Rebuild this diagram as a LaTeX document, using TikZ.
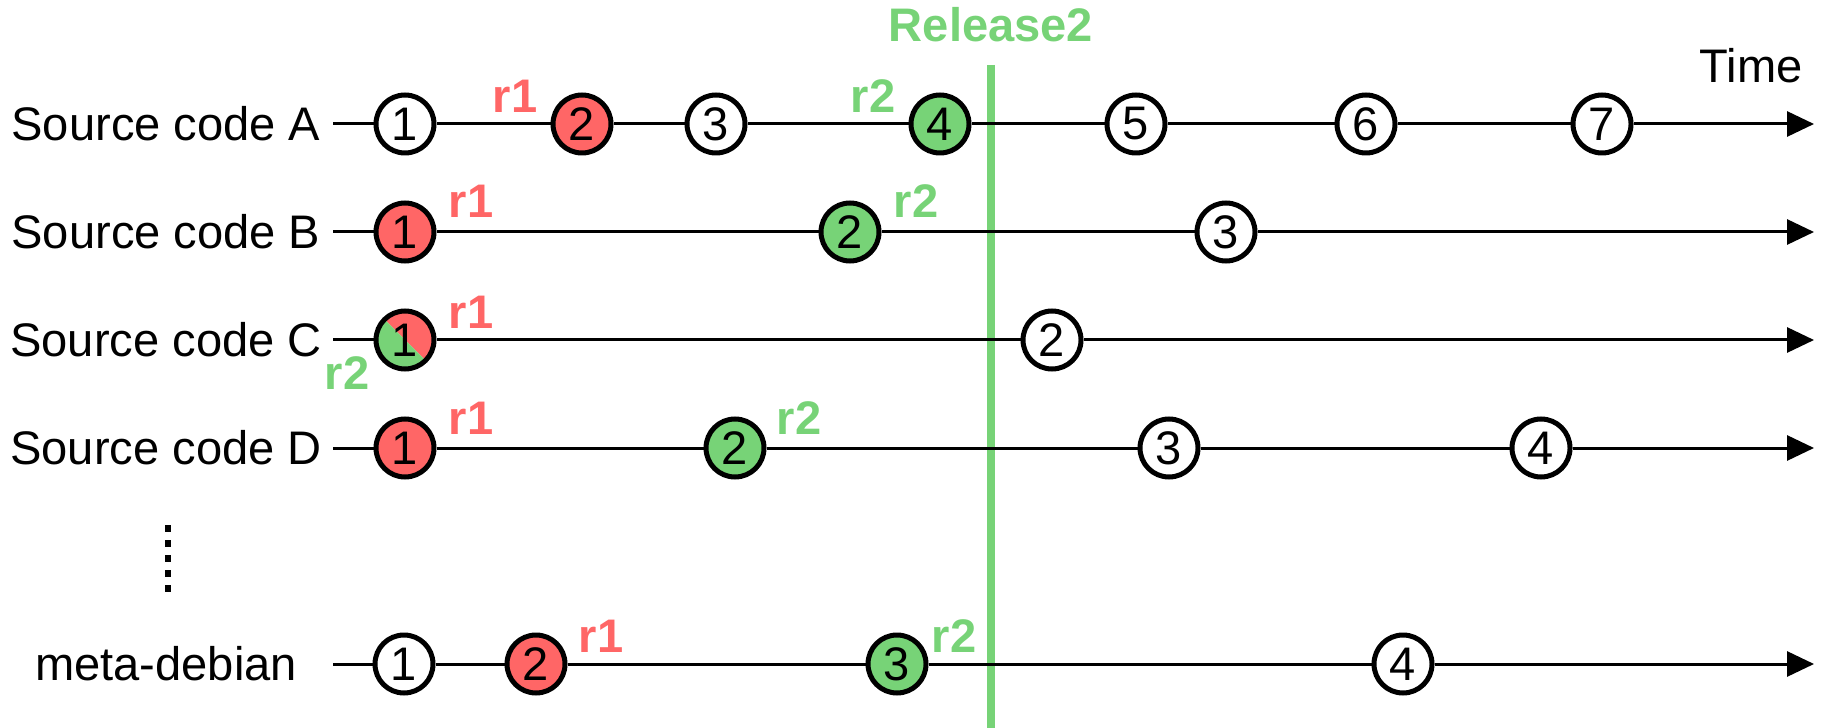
\documentclass[tikz,border=0pt]{standalone}
\usepackage{fontspec}
\setmainfont{Liberation Sans}
\usetikzlibrary{
  arrows.meta,
  calc,
  positioning,
}
\definecolor{relred}{HTML}{FF6666}
\definecolor{relgreen}{HTML}{77D377}

\begin{document}
\begin{tikzpicture}[
  txt/.style={font=\fontsize{13.4pt}{16pt}\selectfont, inner sep=0pt},
  commit/.style={txt, draw, circle, line width=0.05cm, minimum size=0.58cm, fill=white},
  tag/.style={inner sep=0pt, font=\fontsize{13.4pt}{16pt}\selectfont\bfseries, anchor=base west},
  timeline/.style={line width=0.03cm, -{Triangle[length=0.27cm, width=0.25cm]}},
  split/.style={path picture={
    \fill[relred] (path picture bounding box.north west) -- (path picture bounding box.north east)
      -- (path picture bounding box.south east) -- cycle;
    \fill[relgreen] (path picture bounding box.north west) -- (path picture bounding box.south west)
      -- (path picture bounding box.south east) -- cycle;}},
]
\useasboundingbox (0,0) rectangle (18.25,-7.28);

\coordinate (relTop) at (9.91,-0.65);
\coordinate (relBot) at (9.91,-7.28);
\draw[relgreen, line width=0.08cm] (relTop) -- (relBot);
\node[tag, anchor=south, text=relgreen, above=0.22cm of relTop] (rel) {Release2};
\node[txt, anchor=base] (time) at (17.51,-0.83) {Time};

\node[txt] (la) at (1.66,-1.24) {Source code A};
\node[txt] (lb) at (1.66,-2.32) {Source code B};
\node[txt] (lc) at (1.66,-3.40) {Source code C};
\node[txt] (ld) at (1.66,-4.48) {Source code D};
\node[txt] (lm) at (1.66,-6.64) {meta-debian};

\coordinate (dotTop) at (1.68,-5.25);
\coordinate (dotBot) at (1.68,-5.93);
\draw[line width=0.06cm, dash pattern=on 0.07cm off 0.08cm] (dotTop) -- (dotBot);

\node[commit] (a1) at (4.05,-1.24) {1};
\node[commit, fill=relred] (a2) at (5.82,-1.24) {2};
\node[commit] (a3) at (7.16,-1.24) {3};
\node[commit, fill=relgreen] (a4) at (9.40,-1.24) {4};
\node[commit] (a5) at (11.36,-1.24) {5};
\node[commit] (a6) at (13.66,-1.24) {6};
\node[commit] (a7) at (16.02,-1.24) {7};
\coordinate (sa) at (3.33,-1.24);
\coordinate (ea) at (18.14,-1.24);
\draw[timeline] (sa) -- (a1) -- (a2) -- (a3) -- (a4) -- (a5) -- (a6) -- (a7) -- (ea);
\node[tag, anchor=base east, text=relred] (a2tag) at ($(a2)+(-0.44,0.11)$) {r1};
\node[tag, anchor=base east, text=relgreen] (a4tag) at ($(a4)+(-0.44,0.11)$) {r2};

\node[commit, fill=relred] (b1) at (4.05,-2.32) {1};
\node[commit, fill=relgreen] (b2) at (8.50,-2.32) {2};
\node[commit] (b3) at (12.26,-2.32) {3};
\coordinate (sb) at (3.33,-2.32);
\coordinate (eb) at (18.14,-2.32);
\draw[timeline] (sb) -- (b1) -- (b2) -- (b3) -- (eb);
\node[tag, text=relred] (b1tag) at ($(b1)+(0.43,0.14)$) {r1};
\node[tag, text=relgreen] (b2tag) at ($(b2)+(0.43,0.14)$) {r2};

\node[commit, split] (c1) at (4.05,-3.40) {1};
\node[commit] (c2) at (10.52,-3.40) {2};
\coordinate (sc) at (3.33,-3.40);
\coordinate (ec) at (18.14,-3.40);
\draw[timeline] (sc) -- (c1) -- (c2) -- (ec);
\node[tag, text=relred] (c1tag) at ($(c1)+(0.43,0.12)$) {r1};
\node[tag, anchor=base east, text=relgreen] (c1tagb) at ($(c1)+(-0.35,-0.50)$) {r2};

\node[commit, fill=relred] (d1) at (4.05,-4.48) {1};
\node[commit, fill=relgreen] (d2) at (7.35,-4.48) {2};
\node[commit] (d3) at (11.69,-4.48) {3};
\node[commit] (d4) at (15.41,-4.48) {4};
\coordinate (sd) at (3.33,-4.48);
\coordinate (ed) at (18.14,-4.48);
\draw[timeline] (sd) -- (d1) -- (d2) -- (d3) -- (d4) -- (ed);
\node[tag, text=relred] (d1tag) at ($(d1)+(0.43,0.13)$) {r1};
\node[tag, text=relgreen] (d2tag) at ($(d2)+(0.41,0.13)$) {r2};

\node[commit] (m1) at (4.04,-6.64) {1};
\node[commit, fill=relred] (m2) at (5.36,-6.64) {2};
\node[commit, fill=relgreen] (m3) at (8.97,-6.64) {3};
\node[commit] (m4) at (14.03,-6.64) {4};
\coordinate (sm) at (3.33,-6.64);
\coordinate (em) at (18.14,-6.64);
\draw[timeline] (sm) -- (m1) -- (m2) -- (m3) -- (m4) -- (em);
\node[tag, text=relred] (m2tag) at ($(m2)+(0.42,0.12)$) {r1};
\node[tag, text=relgreen] (m3tag) at ($(m3)+(0.34,0.12)$) {r2};
\end{tikzpicture}
\end{document}
